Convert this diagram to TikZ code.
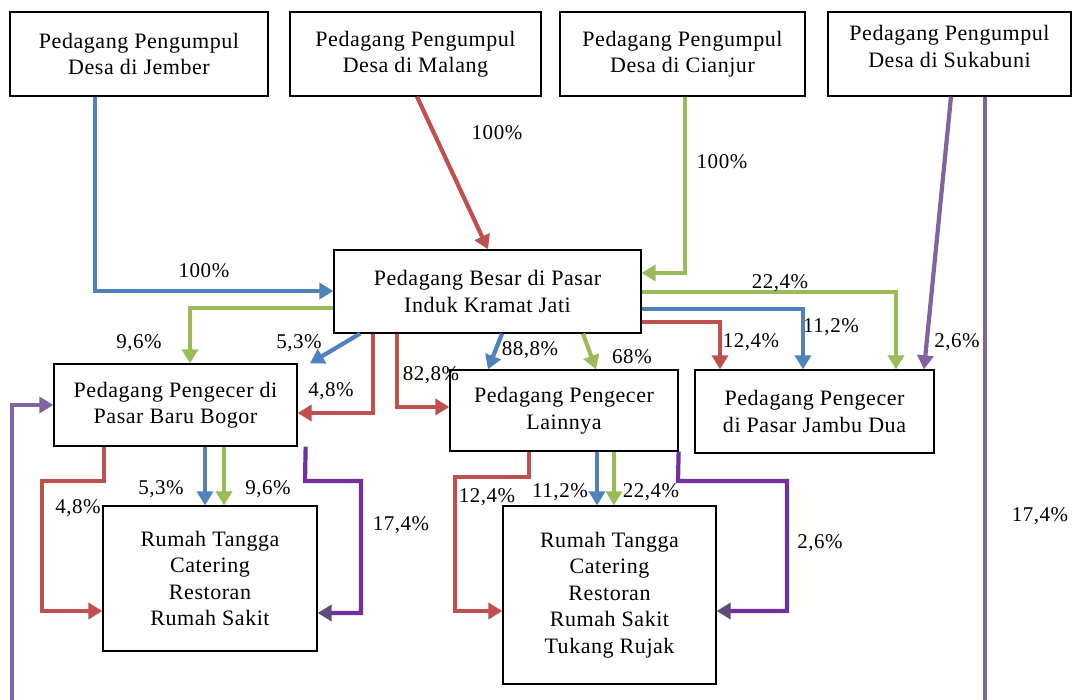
\documentclass[tikz,border=0pt]{standalone}
\usepackage{fontspec}
\setmainfont[LetterSpace=2.5]{Liberation Serif}
\usetikzlibrary{arrows.meta}
\definecolor{cB}{HTML}{4F81BD}
\definecolor{cR}{HTML}{C0504D}
\definecolor{cG}{HTML}{9BBB59}
\definecolor{cP}{HTML}{8064A2}
\definecolor{cV}{HTML}{7030A0}
\definecolor{cVd}{HTML}{604A7B}
\tikzset{
  box/.style={draw=black, line width=1.3pt, fill=white, align=center, inner sep=0pt,
    font=\fontsize{22}{26.5}\selectfont},
  txt/.style={align=center, inner sep=0pt, font=\fontsize{22}{26.5}\selectfont},
  pct/.style={inner sep=0pt, font=\fontsize{21}{24}\selectfont},
  conn/.style={line width=4.2pt, -{Triangle[length=14pt,width=16pt]}},
  cb/.style={conn, draw=cB},
  cr/.style={conn, draw=cR},
  cg/.style={conn, draw=cG},
  cp/.style={conn, draw=cP},
  cv/.style={line width=4.2pt, draw=cV, -{Triangle[length=14pt,width=16pt,color=cVd]}},
}
\begin{document}
\begin{tikzpicture}[x=1pt,y=-1pt]
\useasboundingbox (0,0) rectangle (1073,699);
\clip (0,0) rectangle (1073,699);
\fill[white] (0,0) rectangle (1073,699);

% boxes
\node[box, minimum width=258pt, minimum height=84pt] (jember) at (139,54) {Pedagang Pengumpul\\Desa di Jember};
\node[box, minimum width=251pt, minimum height=84pt] (malang) at (415.5,54) {Pedagang Pengumpul\\Desa di Malang};
\node[box, minimum width=245pt, minimum height=84pt] (cianjur) at (682.5,54) {Pedagang Pengumpul\\Desa di Cianjur};
\node[box, minimum width=243pt, minimum height=84pt] (suk) at (949.5,54) {};
\node[txt] (suktxt) at ([yshift=7.5pt]suk.center) {Pedagang Pengumpul\\Desa di Sukabuni};
\node[box, minimum width=307pt, minimum height=83pt] (besar) at (487.5,291.5) {Pedagang Besar di Pasar\\Induk Kramat Jati};
\node[box, minimum width=243pt, minimum height=82pt] (bogor) at (175.5,405) {Pedagang Pengecer di\\Pasar Baru Bogor};
\node[box, minimum width=228pt, minimum height=81pt] (lain) at (564,410.5) {Pedagang Pengecer\\Lainnya};
\node[box, minimum width=239pt, minimum height=83pt] (jambu) at (814.5,411.5) {Pedagang Pengecer\\di Pasar Jambu Dua};
\node[box, minimum width=214pt, minimum height=145pt] (rt1) at (210,578.5) {Rumah Tangga\\Catering\\Restoran\\Rumah Sakit};
\node[box, minimum width=213pt, minimum height=178pt] (rt2) at (609.5,595) {Rumah Tangga\\Catering\\Restoran\\Rumah Sakit\\Tukang Rujak};

% sources to Pedagang Besar
\draw[cb] (jember.south -| 95,0) |- (besar.west |- 0,291);
\draw[cr] (malang.south -| 417,0) -- (besar.north -| 488,0);
\draw[cg] (cianjur.south -| 685,0) |- (besar.east |- 0,273);
\draw[cp] (suk.south -| 951,0) -- (jambu.north -| 924,0);
\draw[cp] (suk.south -| 985,0) -- (985,715) -- (12,715) |- (bogor.west |- 0,405);

% Pedagang Besar to retailers
\draw[cg] (besar.west |- 0,308) -| (bogor.north -| 190,0);
\draw[cb] (besar.south -| 360,0) -- (bogor.north -| 310,0);
\draw[cr] (besar.south -| 373,0) |- (bogor.east |- 0,413);
\draw[cr] (besar.south -| 397,0) |- (lain.west |- 0,407);
\draw[cb] (besar.south -| 502,0) -- (lain.north -| 488,0);
\draw[cg] (besar.south -| 583,0) -- (lain.north -| 596,0);
\draw[cr] (besar.east |- 0,322) -| (jambu.north -| 720,0);
\draw[cb] (besar.east |- 0,309) -| (jambu.north -| 803,0);
\draw[cg] (besar.east |- 0,292) -| (jambu.north -| 896,0);

% Bogor to consumers
\draw[cr] (bogor.south -| 104,0) -- (104,481) -- (42,481) |- (rt1.west |- 0,611);
\draw[cb] (bogor.south -| 205,0) -- (rt1.north -| 205,0);
\draw[cg] (bogor.south -| 224,0) -- (rt1.north -| 224,0);
\draw[cv] ([xshift=8pt]bogor.south east) -- (305,481) -- (361,481) |- (rt1.east |- 0,613);

% Lainnya to consumers
\draw[cr] (lain.south -| 529,0) -- (529,477) -- (455,477) |- (rt2.west |- 0,611);
\draw[cb] (lain.south -| 597,0) -- (rt2.north -| 597,0);
\draw[cg] (lain.south -| 614,0) -- (rt2.north -| 614,0);
\draw[cv] (lain.south east) -- (678,481) -- (787,481) |- (rt2.east |- 0,611);

% labels
\node[pct] (l1) at (204,271) {100\%};
\node[pct] (l2) at (497,133) {100\%};
\node[pct] (l3) at (722,162) {100\%};
\node[pct] (l4) at (957,342) {2,6\%};
\node[pct] (l5) at (1040,516) {17,4\%};
\node[pct] (l6) at (139,343) {9,6\%};
\node[pct] (l7) at (299,343) {5,3\%};
\node[pct] (l8) at (331,391) {4,8\%};
\node[pct] (l9) at (431,375) {82,8\%};
\node[pct] (l10) at (530,350) {88,8\%};
\node[pct] (l11) at (632,357) {68\%};
\node[pct] (l12) at (751,342) {12,4\%};
\node[pct] (l13) at (831,327) {11,2\%};
\node[pct] (l14) at (780,283) {22,4\%};
\node[pct] (l15) at (78,508) {4,8\%};
\node[pct] (l16) at (161,489) {5,3\%};
\node[pct] (l17) at (268,489) {9,6\%};
\node[pct] (l18) at (401,525) {17,4\%};
\node[pct] (l19) at (487,497) {12,4\%};
\node[pct] (l20) at (560,492) {11,2\%};
\node[pct] (l21) at (651,492) {22,4\%};
\node[pct] (l22) at (820,543) {2,6\%};
\end{tikzpicture}
\end{document}
